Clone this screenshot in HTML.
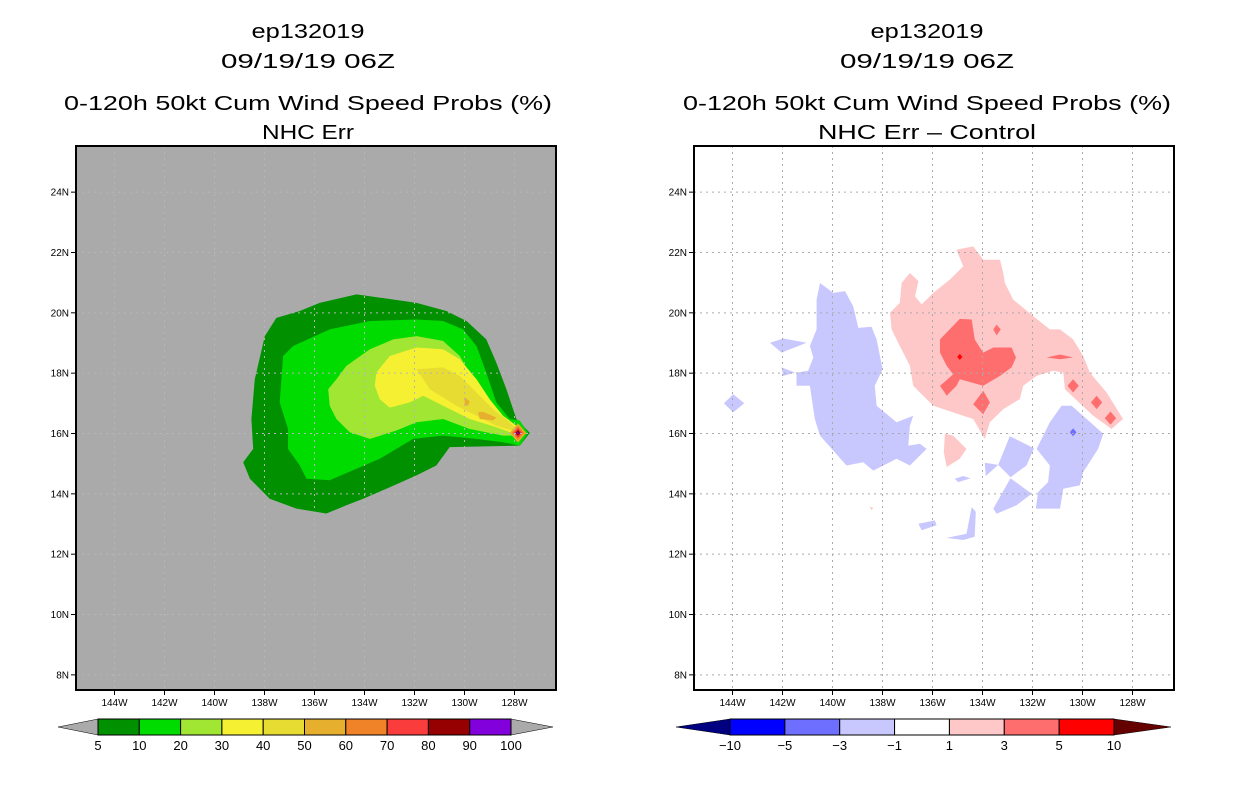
<!DOCTYPE html>
<html><head><meta charset="utf-8">
<style>
html,body{margin:0;padding:0;background:#fff;width:1236px;height:800px;overflow:hidden}
svg{display:block}
text{font-family:"Liberation Sans",sans-serif;fill:#000}
</style></head>
<body>
<svg id="chart" width="1236" height="800" viewBox="0 0 1236 800" xmlns="http://www.w3.org/2000/svg">
<defs>
<clipPath id="clipL"><rect x="76" y="146" width="480" height="544"/></clipPath>
<clipPath id="clipR"><rect x="694" y="146" width="480" height="544"/></clipPath>
</defs>
<g>
<text x="308" y="38" font-size="20" text-anchor="middle" textLength="113" lengthAdjust="spacingAndGlyphs">ep132019</text>
<text x="308" y="68" font-size="20" text-anchor="middle" textLength="174" lengthAdjust="spacingAndGlyphs">09/19/19 06Z</text>
<text x="308" y="110" font-size="20" text-anchor="middle" textLength="488" lengthAdjust="spacingAndGlyphs">0-120h 50kt Cum Wind Speed Probs (%)</text>
<text x="308" y="139" font-size="20" text-anchor="middle" textLength="92" lengthAdjust="spacingAndGlyphs">NHC Err</text>
</g>
<g>
<text x="927" y="38" font-size="20" text-anchor="middle" textLength="113" lengthAdjust="spacingAndGlyphs">ep132019</text>
<text x="927" y="68" font-size="20" text-anchor="middle" textLength="174" lengthAdjust="spacingAndGlyphs">09/19/19 06Z</text>
<text x="927" y="110" font-size="20" text-anchor="middle" textLength="488" lengthAdjust="spacingAndGlyphs">0-120h 50kt Cum Wind Speed Probs (%)</text>
<text x="927" y="139" font-size="20" text-anchor="middle" textLength="218" lengthAdjust="spacingAndGlyphs">NHC Err – Control</text>
</g>
<g id="left"></g>
<g id="right"></g>
<g id="cbL"></g>
<g id="cbR"></g>
</svg>
<script>
// axis data
const lonTicks = [144,142,140,138,136,134,132,130,128];
const latTicks = [8,10,12,14,16,18,20,22,24];
// left colorbar
const probLevels = [5,10,20,30,40,50,60,70,80,90,100];
const probColors = ["#009000","#00dc00","#a0e632","#f5f032","#e6dc32","#e6af2d","#f08228","#fa3c3c","#960000","#8200dc"];
// right colorbar
const diffLevels = [-10,-5,-3,-1,1,3,5,10];
const diffColors = ["#0000ff","#6e6eff","#c8c8ff","#ffffff","#ffc8c8","#ff6e6e","#ff0000"];
const diffUnder = "#000080", diffOver = "#640000";

// left field contours (lon W, lat N)
const left5 = [[138.63,15.05],[138.24,15.49],[138.31,16.48],[138.18,17.80],[137.79,19.23],[137.34,19.83],[136.43,20.06],[135.66,20.33],[134.23,20.61],[133.71,20.55],[131.90,20.33],[130.74,20.06],[129.96,19.73],[129.19,19.12],[128.80,18.35],[128.41,17.47],[128.02,16.48],[127.50,16.02],[127.89,15.60],[130.61,15.55],[131.13,14.94],[131.90,14.61],[133.07,14.17],[133.97,13.84],[134.62,13.62],[135.40,13.35],[136.56,13.51],[137.60,13.84],[138.37,14.50]];
const left10 = [[137.21,17.03],[137.08,18.57],[136.69,18.90],[135.27,19.45],[133.71,19.73],[131.90,19.78],[130.87,19.73],[130.09,19.45],[129.57,18.90],[129.19,18.02],[128.80,17.03],[128.28,16.48],[127.89,16.43],[127.57,16.02],[127.89,15.60],[128.54,15.71],[129.57,15.82],[130.87,15.93],[132.03,15.82],[132.68,15.49],[133.33,15.16],[134.23,14.83],[135.27,14.45],[136.17,14.50],[136.43,14.94],[136.89,15.49],[136.89,16.15]];
const left20 = [[135.33,17.47],[135.01,17.80],[134.62,18.24],[133.71,18.79],[132.81,19.12],[131.90,19.23],[130.87,19.07],[130.22,18.57],[129.70,17.80],[129.19,17.03],[128.67,16.59],[128.02,16.26],[127.89,15.93],[128.54,15.93],[129.83,16.15],[130.87,16.48],[131.90,16.37],[132.68,16.10],[133.71,15.82],[134.49,16.04],[135.01,16.48],[135.27,16.92]];
const left30 = [[133.46,18.02],[132.94,18.57],[131.90,18.85],[130.87,18.79],[130.22,18.46],[129.57,17.80],[129.06,17.14],[128.54,16.59],[128.02,16.26],[127.89,15.93],[128.80,16.21],[129.83,16.48],[130.87,16.92],[131.64,17.25],[132.16,17.03],[132.94,16.86],[133.33,17.14],[133.52,17.58]];
const left40 = [[131.90,18.13],[130.87,18.19],[130.22,17.91],[129.57,17.36],[128.93,16.81],[128.28,16.37],[127.89,16.02],[128.80,16.26],[129.57,16.59],[130.35,16.92],[131.38,17.47]];
const left50a = [[129.51,16.70],[129.32,16.72],[128.80,16.53],[128.93,16.43],[129.44,16.48]];
const left50b = [[130.03,17.20],[129.83,17.06],[129.90,16.92],[130.03,16.94]];
const peakCenter = [127.96,16.02];
const peakRadii = [0.32,0.24,0.17,0.1,0.05];

// right field (difference) contours
const pink1 = [[137.51,20.00],[137.13,20.33],[137.06,20.99],[136.74,21.32],[136.41,21.05],[136.54,20.55],[136.28,20.28],[135.83,20.66],[135.19,21.10],[134.67,21.54],[134.93,22.09],[134.28,22.20],[133.89,21.76],[133.24,21.76],[133.11,21.32],[133.05,20.99],[132.73,20.44],[131.95,19.89],[131.30,19.45],[130.91,19.45],[130.40,19.12],[130.01,18.57],[129.75,18.02],[129.10,17.36],[128.46,16.48],[128.91,16.15],[129.62,16.59],[130.72,17.47],[130.78,18.02],[131.17,18.08],[131.82,17.91],[132.34,17.58],[132.47,17.14],[133.11,16.81],[133.63,16.37],[133.83,15.82],[134.28,16.48],[135.06,16.70],[135.83,16.92],[136.35,17.36],[136.61,17.58],[136.74,18.24],[137.13,18.90],[137.45,19.45]];
const pink2 = [[135.38,15.99],[135.06,15.93],[134.54,15.49],[134.80,15.16],[135.31,14.89],[135.42,15.38]];
const pink3 = [[138.30,13.58],[138.16,13.53],[138.23,13.46]];
const red1 = [[135.57,19.12],[134.80,19.80],[134.34,19.78],[134.22,19.12],[133.89,18.68],[133.50,18.85],[132.79,18.85],[132.62,18.52],[132.79,18.19],[133.24,17.91],[133.89,17.58],[134.80,17.80],[134.93,17.58],[135.31,17.25],[135.57,17.58],[135.06,17.96],[135.31,18.24],[135.57,18.68]];
const red2 = [[133.89,17.42],[133.63,17.03],[133.89,16.64],[134.28,16.97]];
const red3 = [[133.37,19.61],[133.21,19.45],[133.37,19.25],[133.50,19.45]];
const red4 = [[131.43,18.52],[130.91,18.62],[130.40,18.52],[130.91,18.46]];
const redDots = [[130.40,17.58],[129.49,17.03],[128.95,16.51]];
const brightRed = [134.80,18.54];
const blue1 = [[140.23,20.99],[139.71,20.66],[139.26,20.72],[138.94,20.22],[138.74,19.50],[138.23,19.54],[138.03,19.12],[137.80,18.13],[138.10,17.58],[138.03,16.92],[137.26,16.37],[136.61,16.59],[136.74,16.26],[136.80,15.60],[136.35,15.66],[136.09,15.49],[136.74,14.94],[137.26,15.16],[138.16,14.77],[138.55,15.05],[139.20,14.94],[140.23,15.93],[140.43,16.48],[140.62,17.58],[141.14,17.58],[141.14,18.02],[140.69,18.08],[140.49,18.52],[140.62,18.90],[140.36,19.45],[140.36,20.44]];
const blue2 = [[142.17,19.01],[141.65,19.15],[140.75,19.01],[141.72,18.68]];
const blue3 = [[141.72,18.19],[141.20,18.02],[141.66,17.91]];
const blue4 = [[143.60,17.30],[143.17,17.00],[143.60,16.70],[143.96,17.00]];
const blue5 = [[131.82,15.49],[131.30,16.37],[130.85,16.92],[130.46,16.92],[129.23,15.99],[129.43,15.49],[130.01,14.72],[130.14,14.28],[130.78,14.17],[130.91,13.51],[131.85,13.51],[131.76,14.06],[131.37,14.39],[131.30,14.94]];
const blue6 = [[132.86,15.91],[131.92,15.51],[132.21,14.94],[132.83,14.55],[133.31,14.96]];
const blue7 = [[132.83,14.52],[132.01,14.00],[132.60,13.62],[133.37,13.34],[133.50,13.51]];
const blue8 = [[133.83,15.03],[133.31,14.96],[133.79,14.59]];
const blue9 = [[135.00,14.50],[134.67,14.59],[134.38,14.52],[134.86,14.39]];
const blue10 = [[136.41,13.01],[135.77,13.12],[135.70,12.96],[136.28,12.79]];
const blue11 = [[135.31,12.54],[134.54,12.68],[134.34,13.56],[134.18,13.40],[134.22,12.58],[134.67,12.47]];
const darkBlueDot = [130.40,16.04];

const NS = "http://www.w3.org/2000/svg";
function mk(tag, attrs, parent){const e=document.createElementNS(NS,tag);for(const k in attrs)e.setAttribute(k,attrs[k]);parent.appendChild(e);return e;}

// digitization calibration for contour longitudes (read on slightly different scale)
function lonCal(l){ return 1.0301*l - 3.95; }

function makeAxes(x0){
  const xs = lon => x0 + 38.5 + (144 - lon) * 25;
  const ys = lat => 433.5 - (lat - 16) * 30.17;
  return {xs, ys};
}

function poly(g, ax, pts, fill, name){
  const d = pts.map(p => ax.xs(lonCal(p[0])).toFixed(1)+","+ax.ys(p[1]).toFixed(1)).join(" ");
  const e = mk("polygon",{points:d,fill:fill},g);
  
  
  return e;
}
function diamond(g, ax, c, r, fill, name){
  const pts = [[c[0],c[1]+r],[c[0]-r,c[1]],[c[0],c[1]-r],[c[0]+r,c[1]]];
  return poly(g, ax, pts, fill, name);
}

function panel(gid, x0, bg, gridColor, draw){
  const g = document.getElementById(gid);
  const ax = makeAxes(x0);
  const fr = mk("rect",{x:x0,y:146,width:480,height:544,fill:bg},g);
  
  
  const fg = mk("g",{"clip-path":"url(#"+(gid==="left"?"clipL":"clipR")+")"},g);
  
  
  draw(fg, ax);
  const gg = mk("g",{stroke:gridColor,"stroke-width":1,"stroke-dasharray":"2,4"},g);
  
  
  lonTicks.forEach(l=>{const x=ax.xs(l);mk("line",{x1:x,x2:x,y1:146,y2:690},gg);});
  latTicks.forEach(l=>{const y=ax.ys(l);mk("line",{x1:x0,x2:x0+480,y1:y,y2:y},gg);});
  const bd = mk("rect",{x:x0,y:146,width:480,height:544,fill:"none",stroke:"#000","stroke-width":2},g);
  
  
  lonTicks.forEach(l=>{
    const x=ax.xs(l);
    mk("line",{x1:x,x2:x,y1:690,y2:695,stroke:"#000","stroke-width":1},g);
    const t=mk("text",{x:x,y:706,"font-size":10,"text-anchor":"middle"},g);
    t.textContent=l+"W";
    
    
  });
  latTicks.forEach(l=>{
    const y=ax.ys(l);
    mk("line",{x1:x0-5,x2:x0,y1:y,y2:y,stroke:"#000","stroke-width":1},g);
    const t=mk("text",{x:x0-7,y:y+3.5,"font-size":10,"text-anchor":"end"},g);
    t.textContent=l+"N";
    
    
  });
}

panel("left", 76, "#aaaaaa", "#b6b6b6", (g, ax)=>{
  poly(g, ax, left5, probColors[0], "contour-5");
  poly(g, ax, left10, probColors[1], "contour-10");
  poly(g, ax, left20, probColors[2], "contour-20");
  poly(g, ax, left30, probColors[3], "contour-30");
  poly(g, ax, left40, probColors[4], "contour-40");
  poly(g, ax, left50a, probColors[5], "contour-50");
  poly(g, ax, left50b, probColors[5], "contour-50");
  peakRadii.forEach((r,i)=>diamond(g, ax, peakCenter, r, probColors[5+i], "peak-contour"));
});

panel("right", 694, "#ffffff", "#aaaaaa", (g, ax)=>{
  const lb = diffColors[2], db = diffColors[1], lp = diffColors[4], rp = diffColors[5];
  [blue1,blue2,blue3,blue4,blue5,blue6,blue7,blue8,blue9,blue10,blue11].forEach(p=>poly(g, ax, p, lb, "negative-diff-region"));
  diamond(g, ax, darkBlueDot, 0.13, db, "negative-diff-peak");
  [pink1,pink2,pink3].forEach(p=>poly(g, ax, p, lp, "positive-diff-region"));
  [red1,red2,red3,red4].forEach(p=>poly(g, ax, p, rp, "strong-positive-diff-region"));
  redDots.forEach(c=>diamond(g, ax, c, 0.22, rp, "strong-positive-diff-spot"));
  diamond(g, ax, brightRed, 0.1, diffColors[6], "max-positive-diff-spot");
});

// colorbars
function colorbar(gid, x0, x1, levels, colors, under, over, tipL, tipR){
  const g = document.getElementById(gid);
  const n = colors.length, w = (x1-x0)/n, y0=719, y1=735, ym=727;
  const a=mk("polygon",{points:`${tipL},${ym} ${x0},${y0} ${x0},${y1}`,fill:under,stroke:"#000","stroke-width":0.5},g);
  
  
  const b=mk("polygon",{points:`${tipR},${ym} ${x1},${y0} ${x1},${y1}`,fill:over,stroke:"#000","stroke-width":0.5},g);
  
  
  colors.forEach((c,i)=>{
    const r=mk("rect",{x:x0+i*w,y:y0,width:w,height:y1-y0,fill:c,stroke:"#000","stroke-width":1},g);
    
    
  });
  levels.forEach((v,i)=>{
    const t=mk("text",{x:x0+i*w,y:750,"font-size":13,"text-anchor":"middle"},g);
    t.textContent=String(v).replace("-","\u2212");
    
    
  });
}
colorbar("cbL", 98, 511, probLevels, probColors, "#aaaaaa", "#aaaaaa", 58, 553);
colorbar("cbR", 730, 1114, diffLevels, diffColors, diffUnder, diffOver, 676, 1171);
</script>
</body></html>
